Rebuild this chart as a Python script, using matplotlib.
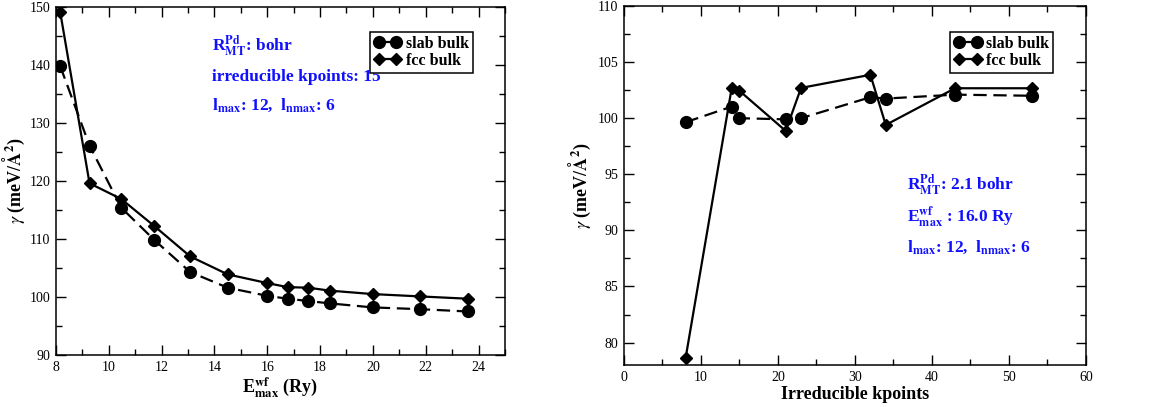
import matplotlib
matplotlib.use("Agg")
import matplotlib.pyplot as plt
from matplotlib.ticker import MultipleLocator

plt.rcParams["font.family"] = ["Liberation Serif", "DejaVu Serif"]
plt.rcParams["mathtext.fontset"] = "stix"

# cutoff convergence (left panel)
emax = [8.16, 9.27, 10.47, 11.73, 13.08, 14.5, 16.0, 16.77, 17.56, 18.36, 20.0, 21.78, 23.6]
slab_emax = [139.8, 126.1, 115.4, 109.8, 104.3, 101.6, 100.2, 99.7, 99.3, 98.9, 98.2, 97.9, 97.5]
fcc_emax = [149.1, 119.6, 116.9, 112.2, 107.0, 103.9, 102.4, 101.7, 101.6, 101.1, 100.5, 100.1, 99.7]

# k-point convergence (right panel)
kpts = [8, 14, 15, 21, 23, 32, 34, 43, 53]
slab_k = [99.64, 101.04, 100.0, 99.9, 100.0, 101.87, 101.75, 102.1, 102.0]
fcc_k = [78.6, 102.73, 102.44, 98.87, 102.7, 103.87, 99.4, 102.67, 102.67]

BLUE = "#1010ff"


def style_axis(ax):
    ax.tick_params(which="both", direction="in", top=True, right=True, labelsize=10,
                   pad=4)
    ax.tick_params(which="major", length=7, width=1)
    ax.tick_params(which="minor", length=4, width=1)
    for s in ax.spines.values():
        s.set_linewidth(1.1)


def draw_series(ax, x, slab, fcc):
    ax.plot(x, slab, color="black", lw=1.6, ls=(0, (6, 3)), marker="o", ms=8.5,
            label="slab bulk")
    ax.plot(x, fcc, color="black", lw=1.6, ls="-", marker="D", ms=6.5,
            label="fcc bulk")
    leg = ax.legend(loc="upper right", bbox_to_anchor=(0.929, 0.928), numpoints=2,
                    fancybox=False, framealpha=1, edgecolor="black",
                    prop={"weight": "bold", "size": 11.5}, handlelength=1.7,
                    handletextpad=0.3, borderpad=0.25, labelspacing=0.05,
                    borderaxespad=0)
    leg.get_frame().set_linewidth(1.1)


fig = plt.figure(figsize=(11.57, 4.07), dpi=100)

ax1 = fig.add_axes([0.0484, 0.1278, 0.388, 0.855])
draw_series(ax1, emax, slab_emax, fcc_emax)
ax1.set_xlim(8, 25)
ax1.set_ylim(90, 150)
ax1.xaxis.set_major_locator(MultipleLocator(2))
ax1.xaxis.set_minor_locator(MultipleLocator(1))
ax1.yaxis.set_major_locator(MultipleLocator(10))
ax1.yaxis.set_minor_locator(MultipleLocator(5))
style_axis(ax1)
ax1.set_xlabel(r"E$_{\mathbf{max}}^{\mathbf{wf}}$ (Ry)", fontsize=13, fontweight="bold",
               labelpad=2)
ax1.set_ylabel(r"$\gamma$ (meV/$\mathbf{\AA}^{\mathbf{2}}$)", fontsize=13,
               fontweight="bold", labelpad=2)
ax1.text(0.348, 0.873, r"R$_{\mathbf{MT}}^{\mathbf{Pd}}$: bohr", transform=ax1.transAxes,
         color=BLUE, fontsize=12.5, fontweight="bold")
ax1.text(0.348, 0.787, "irreducible kpoints: 15", transform=ax1.transAxes,
         color=BLUE, fontsize=12.5, fontweight="bold")
ax1.text(0.348, 0.704, r"l$_{\mathbf{max}}$: 12,  l$_{\mathbf{nmax}}$: 6",
         transform=ax1.transAxes, color=BLUE, fontsize=12.5, fontweight="bold")

ax2 = fig.add_axes([0.5393, 0.1032, 0.3993, 0.882])
draw_series(ax2, kpts, slab_k, fcc_k)
ax2.set_xlim(0, 60)
ax2.set_ylim(78, 110)
ax2.xaxis.set_major_locator(MultipleLocator(10))
ax2.xaxis.set_minor_locator(MultipleLocator(5))
ax2.yaxis.set_major_locator(MultipleLocator(5))
ax2.yaxis.set_minor_locator(MultipleLocator(2.5))
style_axis(ax2)
ax2.set_xlabel("Irreducible kpoints", fontsize=13, fontweight="bold", labelpad=2)
ax2.set_ylabel(r"$\gamma$ (meV/$\mathbf{\AA}^{\mathbf{2}}$)", fontsize=13,
               fontweight="bold", labelpad=3)
ax2.text(0.613, 0.487, r"R$_{\mathbf{MT}}^{\mathbf{Pd}}$: 2.1 bohr", transform=ax2.transAxes,
         color=BLUE, fontsize=12.5, fontweight="bold")
ax2.text(0.613, 0.398, r"E$_{\mathbf{max}}^{\mathbf{wf}}$ : 16.0 Ry", transform=ax2.transAxes,
         color=BLUE, fontsize=12.5, fontweight="bold")
ax2.text(0.613, 0.315, r"l$_{\mathbf{max}}$: 12,  l$_{\mathbf{nmax}}$: 6",
         transform=ax2.transAxes, color=BLUE, fontsize=12.5, fontweight="bold")

fig.savefig("out.png", dpi=100)
